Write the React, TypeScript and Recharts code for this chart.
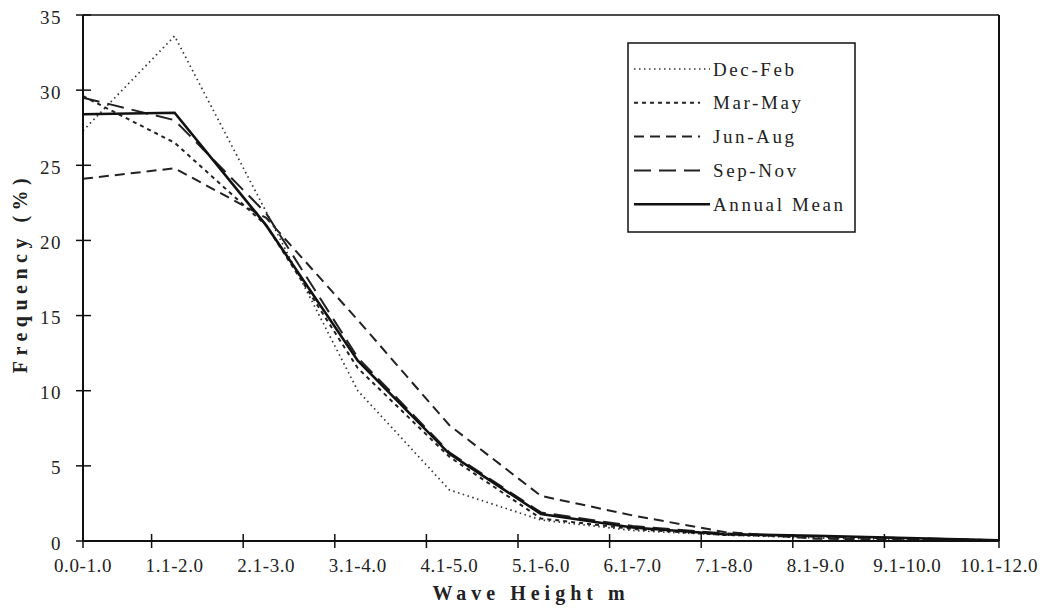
import React from "react";
import { LineChart, Line, XAxis, YAxis, ReferenceLine } from "recharts";

const categories = [
  "0.0-1.0",
  "1.1-2.0",
  "2.1-3.0",
  "3.1-4.0",
  "4.1-5.0",
  "5.1-6.0",
  "6.1-7.0",
  "7.1-8.0",
  "8.1-9.0",
  "9.1-10.0",
  "10.1-12.0",
];

const decFeb = [27.3, 33.6, 21.9, 10.0, 3.4, 1.4, 0.7, 0.4, 0.2, 0.1, 0.05];
const marMay = [29.6, 26.5, 21.0, 11.5, 5.6, 1.5, 0.8, 0.4, 0.3, 0.15, 0.05];
const junAug = [24.1, 24.8, 21.5, 14.7, 7.7, 3.0, 1.7, 0.6, 0.15, 0.1, 0.0];
const sepNov = [29.5, 28.0, 21.8, 12.2, 5.9, 1.9, 1.0, 0.5, 0.3, 0.2, 0.05];
const annualMean = [28.4, 28.5, 21.0, 12.0, 5.8, 1.8, 0.9, 0.45, 0.35, 0.2, 0.05];

const yTicks = [0, 5, 10, 15, 20, 25, 30, 35];

const data = categories.map((name, i) => ({
  name,
  decFeb: decFeb[i],
  marMay: marMay[i],
  junAug: junAug[i],
  sepNov: sepNov[i],
  annual: annualMean[i],
}));

const INK = "#111";
const FONT = "'Liberation Serif', 'Times New Roman', serif";

// line styles for each series (also used by the legend)
const series = [
  { key: "decFeb", name: "Dec-Feb", dash: "1.5 3.5", width: 1.7, color: "#333" },
  { key: "marMay", name: "Mar-May", dash: "4 4", width: 2, color: "#222" },
  { key: "junAug", name: "Jun-Aug", dash: "10 6", width: 2, color: "#222" },
  { key: "sepNov", name: "Sep-Nov", dash: "17 8", width: 2, color: "#222" },
  { key: "annual", name: "Annual Mean", dash: undefined, width: 2.6, color: INK },
];

const XTick = (props: any) => {
  const { x, y, payload, index } = props;
  const last = index === categories.length - 1;
  const off = index === 0 || last ? 0 : -23;
  return (
    <g>
      <line x1={x + off} x2={x + off} y1={y - 7} y2={y + 7} stroke={INK} strokeWidth={1.5} />
      <text
        x={x}
        y={y + 31}
        textAnchor="middle"
        fontFamily={FONT}
        fontSize={19}
        letterSpacing={0.6}
        fill="#222"
      >
        {payload.value}
      </text>
    </g>
  );
};

const YTick = (props: any) => {
  const { x, y, payload } = props;
  return (
    <g>
      <line x1={x - 7} x2={x + 8} y1={y} y2={y} stroke={INK} strokeWidth={1.5} />
      <text
        x={x - 21}
        y={y}
        dy="0.45em"
        textAnchor="end"
        fontFamily={FONT}
        fontSize={19}
        letterSpacing={1.5}
        fill="#222"
      >
        {payload.value}
      </text>
    </g>
  );
};

const LegendBox = () => (
  <svg width={230} height={192} style={{ display: "block" }}>
    <rect x={1} y={1} width={227} height={189} fill="#fff" stroke={INK} strokeWidth={1.5} />
    {series.map((s, i) => {
      const y = 27 + i * 33.8;
      return (
        <g key={s.key}>
          <line
            x1={7}
            x2={s.key === "annual" || s.key === "decFeb" ? 83 : 73}
            y1={y}
            y2={y}
            stroke={s.color}
            strokeWidth={s.width}
            strokeDasharray={s.dash}
          />
          <text
            x={86}
            y={y}
            dy="0.35em"
            fontFamily={FONT}
            fontSize={19}
            letterSpacing={2.6}
            fill="#222"
          >
            {s.name}
          </text>
        </g>
      );
    })}
  </svg>
);

export default function App() {
  return (
    <div style={{ position: "absolute", left: 0, top: 0, width: 1052, height: 614, background: "#fff" }}>
      <LineChart
        width={1052}
        height={614}
        data={data}
        margin={{ top: 15, right: 53, left: 0, bottom: 0 }}
      >
        <XAxis
          dataKey="name"
          padding={{ left: 0, right: 0 }}
          height={73}
          interval={0}
          tickSize={0}
          tickMargin={0}
          tickLine={false}
          axisLine={{ stroke: INK, strokeWidth: 2 }}
          tick={<XTick />}
          label={{
            content: (p: any) => {
              const vb = p.viewBox;
              return (
                <text
                  x={vb.x + vb.width / 2 - 10}
                  y={vb.y + 59}
                  textAnchor="middle"
                  fontFamily={FONT}
                  fontWeight={700}
                  fontSize={20}
                  letterSpacing={5}
                  fill="#222"
                >
                  Wave Height m
                </text>
              );
            },
          }}
        />
        <YAxis
          domain={[0, 35]}
          ticks={yTicks}
          width={83}
          tickSize={0}
          tickMargin={0}
          tickLine={false}
          axisLine={{ stroke: INK, strokeWidth: 2 }}
          tick={<YTick />}
          label={{
            content: (p: any) => {
              const vb = p.viewBox;
              const cx = 20;
              const cy = vb.y + vb.height / 2 - 5;
              return (
                <text
                  transform={`translate(${cx},${cy}) rotate(-90)`}
                  textAnchor="middle"
                  dy="0.35em"
                  fontFamily={FONT}
                  fontWeight={700}
                  fontSize={20}
                  letterSpacing={5.5}
                  fill="#222"
                >
                  Frequency (%)
                </text>
              );
            },
          }}
        />
        <ReferenceLine y={35} stroke={INK} strokeWidth={1.5} />
        <ReferenceLine x={categories[categories.length - 1]} stroke={INK} strokeWidth={2} />
        {series.map((s) => (
          <Line
            key={s.key}
            type="linear"
            dataKey={s.key}
            name={s.name}
            stroke={s.color}
            strokeWidth={s.width}
            strokeDasharray={s.dash}
            dot={false}
            activeDot={false}
            isAnimationActive={false}
          />
        ))}
      </LineChart>
      <div style={{ position: "absolute", left: 627, top: 42 }}>
        <LegendBox />
      </div>
    </div>
  );
}
